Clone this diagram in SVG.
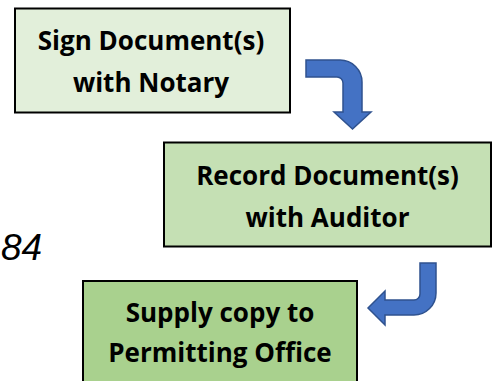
<svg xmlns="http://www.w3.org/2000/svg" width="493" height="381" viewBox="0 0 493 381">
<style>
.box{stroke:#000;stroke-width:2}
.lbl{font-family:"Open Sans","Liberation Sans",sans-serif;font-weight:bold;font-size:26px;fill:#000;text-anchor:middle}
.arr{fill:#4472c4;stroke:#2f528f;stroke-width:1.5;stroke-linejoin:miter}
</style>
<rect width="493" height="381" fill="#fff"/>
<g id="node-sign">
<rect class="box" x="15" y="8.5" width="275" height="104" fill="#e2efda"/>
<text class="lbl" x="151" y="50">Sign Document(s)</text>
<text class="lbl" x="151" y="92">with Notary</text>
</g>
<g id="node-record">
<rect class="box" x="164" y="142.5" width="327" height="104" fill="#c5e0b4"/>
<text class="lbl" x="327.5" y="185">Record Document(s)</text>
<text class="lbl" x="327.5" y="227">with Auditor</text>
</g>
<g id="node-supply">
<rect class="box" x="83" y="281" width="274" height="120" fill="#a9d18e"/>
<text class="lbl" x="220" y="322">Supply copy to</text>
<text class="lbl" x="220" y="362">Permitting Office</text>
</g>
<text id="page-num" x="1" y="260" font-family="Liberation Sans, Arial, sans-serif" font-style="italic" font-size="37" fill="#000">84</text>
<g id="connectors">
<path class="arr" d="M306,60 H340 A22,22 0 0 1 362,82 V112 H371 L352.5,129 L334,112 H343 V83 A6,6 0 0 0 337,77 H306 Z"/>
<path class="arr" d="M420,263 H436 V293 A22,22 0 0 1 414,315 H385 V325 L368,308 L385,291 V300 H414 A6,6 0 0 0 420,294 Z"/>
</g>
</svg>
